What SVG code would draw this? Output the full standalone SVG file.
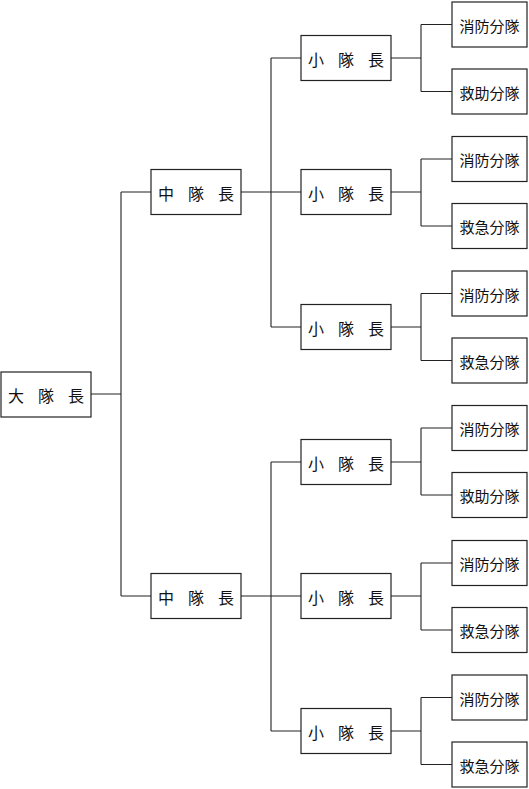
<svg xmlns="http://www.w3.org/2000/svg" width="529" height="789" viewBox="0 0 529 789">
<style>
rect{fill:#fff;stroke:#222;stroke-width:1.2}
.c path{fill:none;stroke:#222;stroke-width:1.1}
text{font-family:"Noto Sans CJK JP","Noto Sans CJK SC",sans-serif;font-size:16px;fill:#111;text-anchor:middle;dominant-baseline:central}
.s{font-size:15px}
</style>
<rect x="0" y="0" width="529" height="789" style="stroke:none"/>
<g class="c" id="connectors">
<path d="M91 394H121M121 192V596M121 192H151M121 596H151"/>
<path d="M241 192H301M271 58V327M271 58H301M271 327H301"/>
<path d="M241 596H301M271 462V731M271 462H301M271 731H301"/>
<path d="M391 58H421M421 24.5V91.5M421 24.5H452M421 91.5H452"/>
<path d="M391 192H421M421 159V226M421 159H452M421 226H452"/>
<path d="M391 327H421M421 293.5V360.5M421 293.5H452M421 360.5H452"/>
<path d="M391 462H421M421 428V495M421 428H452M421 495H452"/>
<path d="M391 596H421M421 563V630M421 563H452M421 630H452"/>
<path d="M391 731H421M421 697.5V764.5M421 697.5H452M421 764.5H452"/>
</g>
<g id="daitaicho"><rect x="1" y="372" width="90" height="45"/><text x="16 46 76" y="394.5">大隊長</text></g>
<g id="chutaicho1"><rect x="151" y="169.5" width="90" height="45"/><text x="166 196 226" y="192.5">中隊長</text></g>
<g id="chutaicho2"><rect x="151" y="573.5" width="90" height="45"/><text x="166 196 226" y="596.5">中隊長</text></g>
<g id="shotaicho1"><rect x="301" y="35.5" width="90" height="45"/><text x="316 346 376" y="58.5">小隊長</text></g>
<g id="shotaicho2"><rect x="301" y="169.5" width="90" height="45"/><text x="316 346 376" y="192.5">小隊長</text></g>
<g id="shotaicho3"><rect x="301" y="304.5" width="90" height="45"/><text x="316 346 376" y="327.5">小隊長</text></g>
<g id="shotaicho4"><rect x="301" y="439.5" width="90" height="45"/><text x="316 346 376" y="462.5">小隊長</text></g>
<g id="shotaicho5"><rect x="301" y="573.5" width="90" height="45"/><text x="316 346 376" y="596.5">小隊長</text></g>
<g id="shotaicho6"><rect x="301" y="708.5" width="90" height="45"/><text x="316 346 376" y="731.5">小隊長</text></g>
<g id="b1"><rect x="452" y="2" width="75" height="45"/><text class="s" x="489.5" y="25">消防分隊</text></g>
<g id="b2"><rect x="452" y="69" width="75" height="45"/><text class="s" x="489.5" y="92">救助分隊</text></g>
<g id="b3"><rect x="452" y="136.5" width="75" height="45"/><text class="s" x="489.5" y="159.5">消防分隊</text></g>
<g id="b4"><rect x="452" y="203.5" width="75" height="45"/><text class="s" x="489.5" y="226.5">救急分隊</text></g>
<g id="b5"><rect x="452" y="271" width="75" height="45"/><text class="s" x="489.5" y="294">消防分隊</text></g>
<g id="b6"><rect x="452" y="338" width="75" height="45"/><text class="s" x="489.5" y="361">救急分隊</text></g>
<g id="b7"><rect x="452" y="405.5" width="75" height="45"/><text class="s" x="489.5" y="428.5">消防分隊</text></g>
<g id="b8"><rect x="452" y="472.5" width="75" height="45"/><text class="s" x="489.5" y="495.5">救助分隊</text></g>
<g id="b9"><rect x="452" y="540.5" width="75" height="45"/><text class="s" x="489.5" y="563.5">消防分隊</text></g>
<g id="b10"><rect x="452" y="607.5" width="75" height="45"/><text class="s" x="489.5" y="630.5">救急分隊</text></g>
<g id="b11"><rect x="452" y="675" width="75" height="45"/><text class="s" x="489.5" y="698">消防分隊</text></g>
<g id="b12"><rect x="452" y="742" width="75" height="45"/><text class="s" x="489.5" y="765">救急分隊</text></g>
</svg>
